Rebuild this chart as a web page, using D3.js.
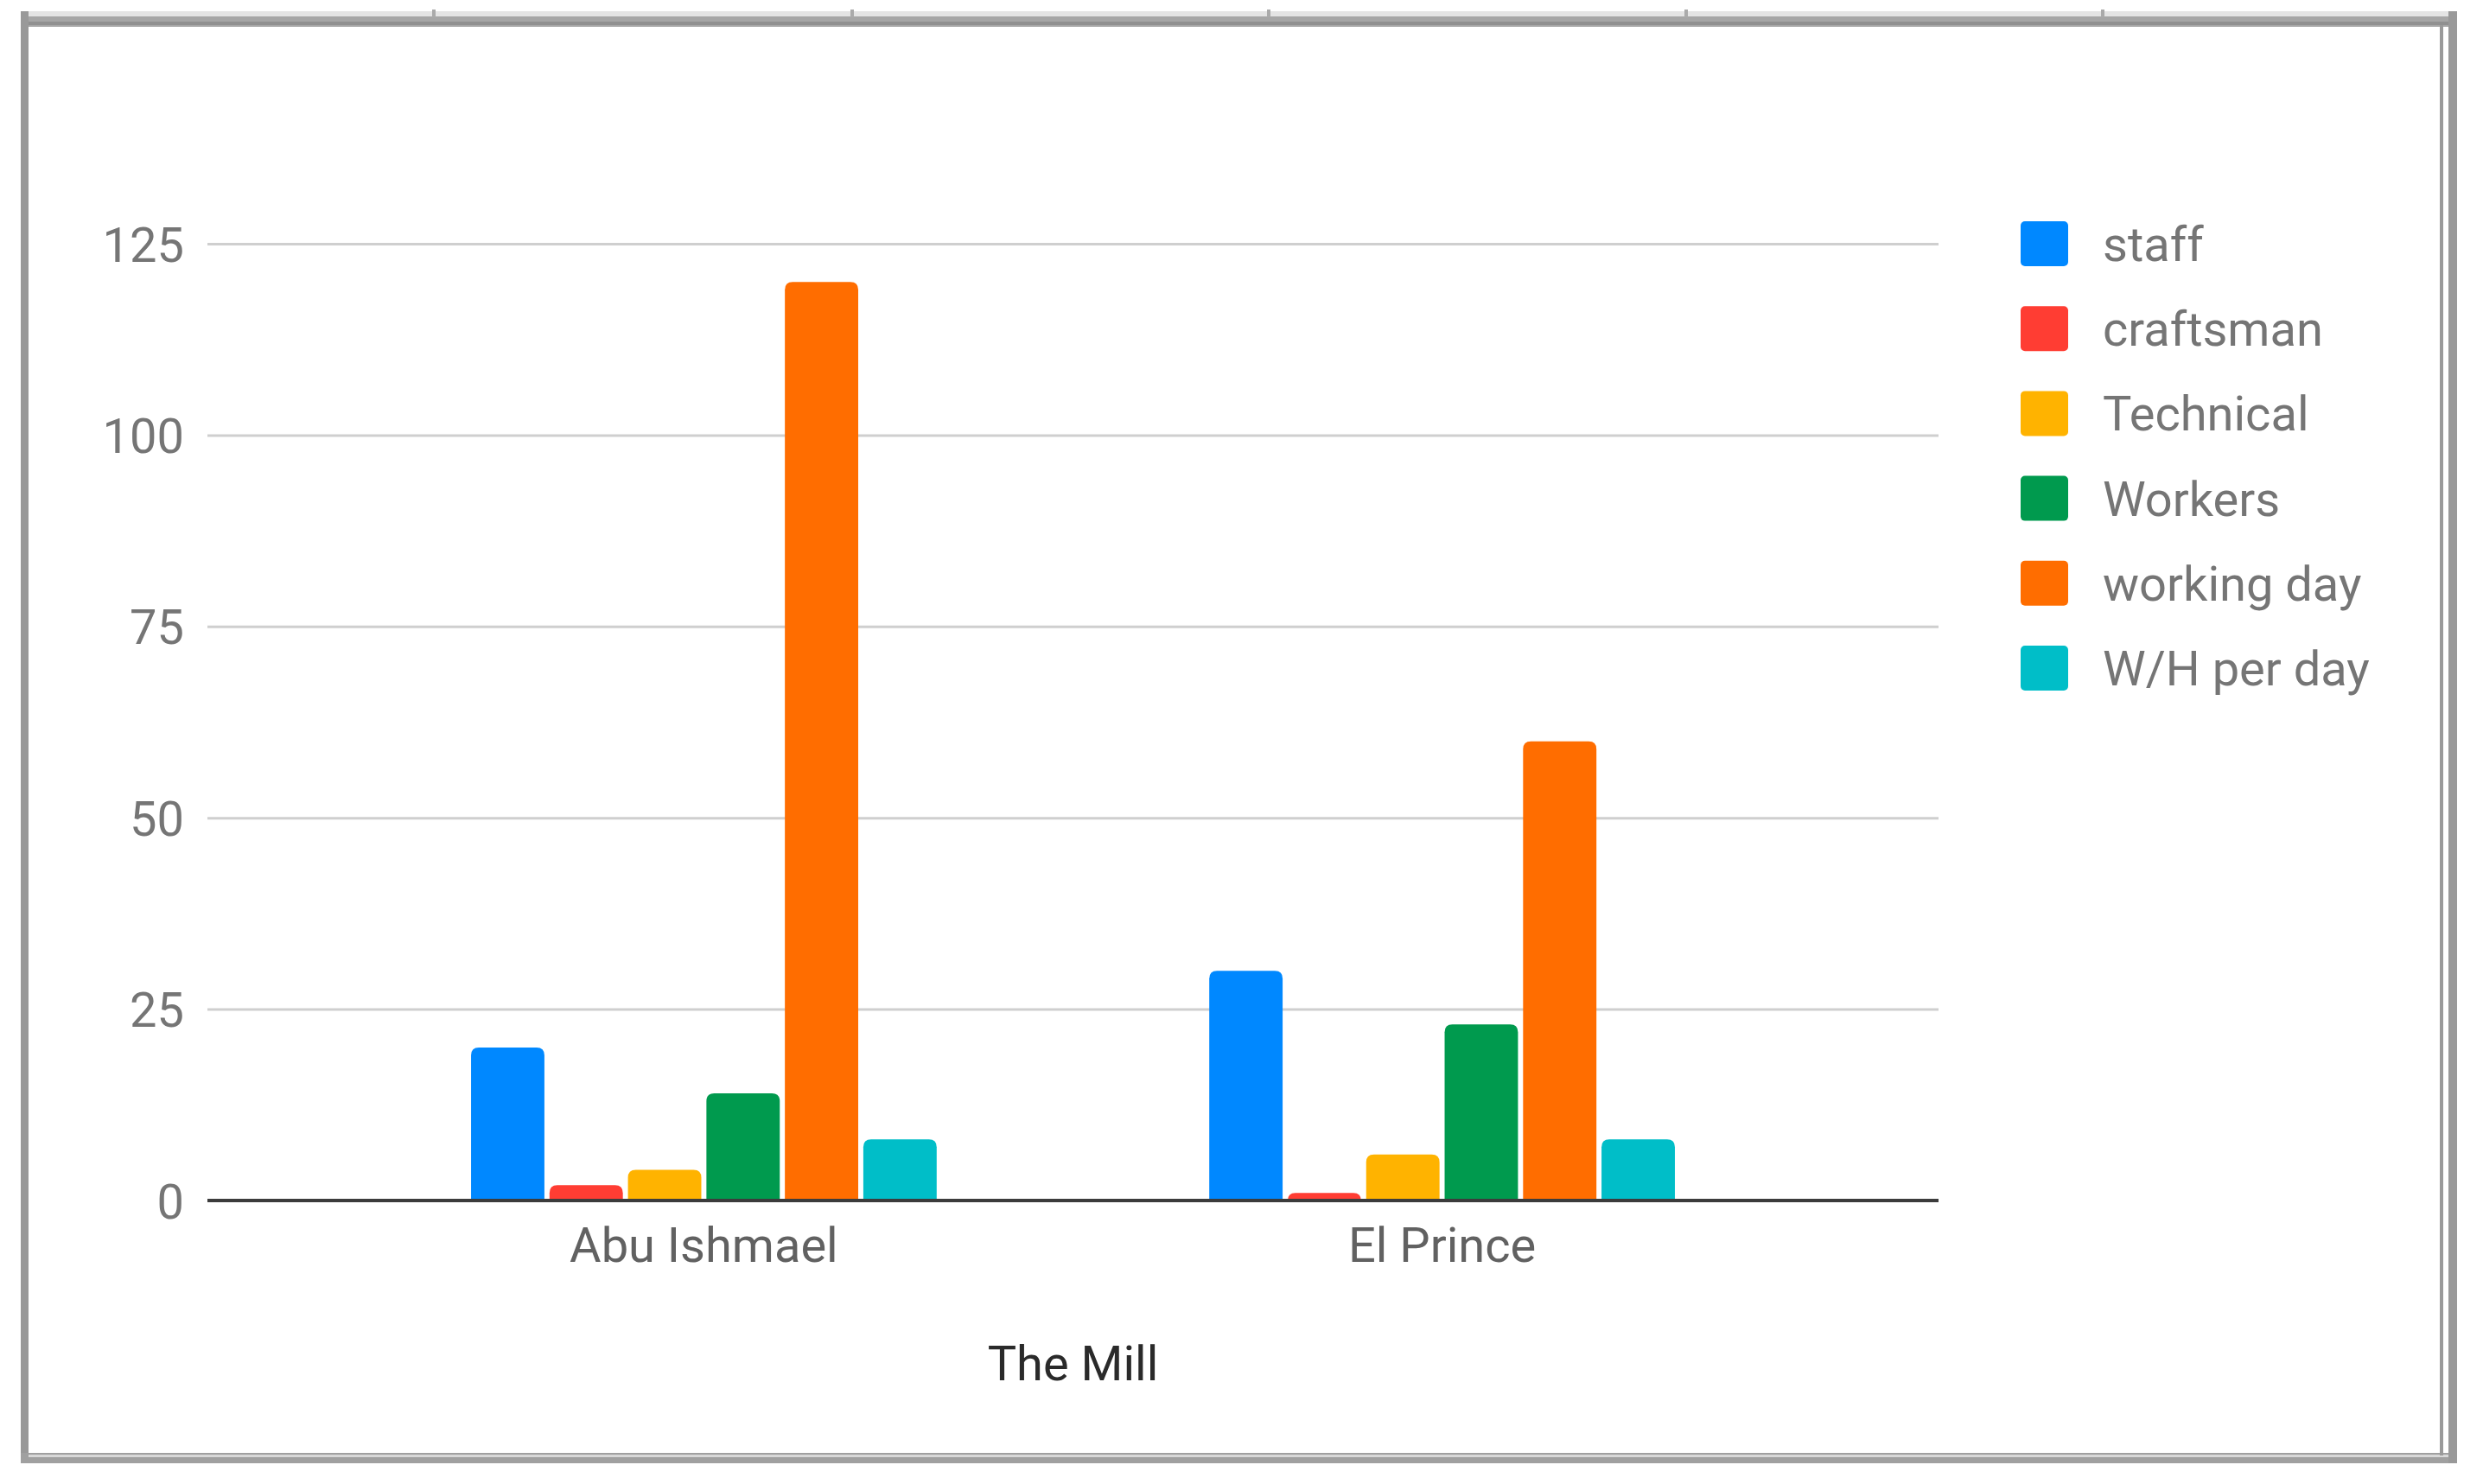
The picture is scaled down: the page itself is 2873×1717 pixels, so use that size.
<!DOCTYPE html>
<html><head><meta charset="utf-8">
<script src="https://cdn.jsdelivr.net/npm/d3@7"></script>
<style>html,body{margin:0;padding:0;background:#fff;}svg{display:block;}</style>
</head><body>
<svg id="c" width="2873" height="1717"></svg>
<script>
const categories = ["Abu Ishmael", "El Prince"];
const seriesNames = ["staff", "craftsman", "Technical", "Workers", "working day", "W/H per day"];
const staff = [20, 30];
const craftsman = [2, 1];
const technical = [4, 6];
const workers = [14, 23];
const workingDay = [120, 60];
const whPerDay = [8, 8];
const yTicks = [0, 25, 50, 75, 100, 125];
const seriesColors = ["#0088ff", "#ff3d33", "#ffb300", "#009a4e", "#ff6d00", "#00bec8"];
const xTitle = "The Mill";

const seriesValues = [staff, craftsman, technical, workers, workingDay, whPerDay];

const svg = d3.select("#c");
const font = "Roboto, 'Noto Sans', Arial, sans-serif";

// frame (document-style border)
const frame = svg.append("g");
frame.append("rect").attr("x", 24).attr("y", 13).attr("width", 2819).attr("height", 6).attr("fill", "#e4e4e4");
frame.append("rect").attr("x", 24).attr("y", 19).attr("width", 2819).attr("height", 12).attr("fill", "#a6a6a6");
frame.append("rect").attr("x", 24).attr("y", 25).attr("width", 2819).attr("height", 4).attr("fill", "#909090");
frame.append("rect").attr("x", 24).attr("y", 13).attr("width", 9).attr("height", 1680).attr("fill", "#999");
frame.append("rect").attr("x", 24).attr("y", 1681).attr("width", 2819).attr("height", 12).attr("fill", "#a0a0a0");
frame.append("rect").attr("x", 33).attr("y", 1683).attr("width", 2800).attr("height", 3).attr("fill", "#d8d8d8");
frame.append("rect").attr("x", 2823).attr("y", 29).attr("width", 4).attr("height", 1655).attr("fill", "#9a9a9a");
frame.append("rect").attr("x", 2833).attr("y", 13).attr("width", 10).attr("height", 1680).attr("fill", "#999");
[502, 986, 1468, 1951, 2433].forEach(x => {
  frame.append("rect").attr("x", x - 2).attr("y", 11).attr("width", 4).attr("height", 9).attr("fill", "#aaa");
});

const plot = {left: 240, right: 2243, top: 282, bottom: 1389};

const y = d3.scaleLinear().domain([0, 125]).range([plot.bottom, plot.top]);
const x0 = d3.scaleBand().domain(categories).range([plot.left, plot.right]).paddingInner(0.365).paddingOuter(0.355);
const x1 = d3.scaleBand().domain(seriesNames).range([0, x0.bandwidth()]).paddingInner(0.065).paddingOuter(0.02);
const color = d3.scaleOrdinal().domain(seriesNames).range(seriesColors);

// gridlines
const yAxis = d3.axisLeft(y).tickValues(yTicks).tickSize(-(plot.right - plot.left)).tickPadding(27);
const gy = svg.append("g").attr("transform", `translate(${plot.left},0)`).call(yAxis);
gy.select(".domain").remove();
gy.selectAll(".tick line").attr("stroke", "#cfcfcf").attr("stroke-width", 3);
gy.selectAll(".tick text").attr("font-family", font).attr("font-size", 56).attr("fill", "#757575").attr("dy", "0.36em");

// bars
function topRounded(xp, yp, w, h, r) {
  r = Math.min(r, h, w / 2);
  return `M${xp},${yp + h}V${yp + r}Q${xp},${yp} ${xp + r},${yp}H${xp + w - r}Q${xp + w},${yp} ${xp + w},${yp + r}V${yp + h}Z`;
}
const groups = svg.append("g").selectAll("g").data(categories).join("g")
  .attr("transform", d => `translate(${x0(d)},0)`);
groups.selectAll("path").data((d, i) => seriesNames.map((s, k) => ({s, v: seriesValues[k][i]})))
  .join("path")
  .attr("fill", d => color(d.s))
  .attr("d", d => topRounded(x1(d.s), y(d.v), x1.bandwidth(), y(0) - y(d.v), 9));

// baseline
svg.append("line").attr("x1", plot.left).attr("x2", plot.right).attr("y1", y(0)).attr("y2", y(0))
  .attr("stroke", "#3c3c3c").attr("stroke-width", 4);

// category labels
const xAxis = d3.axisBottom(x0).tickSize(0).tickPadding(0);
const gx = svg.append("g").attr("transform", `translate(0,${y(0)})`).call(xAxis);
gx.select(".domain").remove();
gx.selectAll(".tick text").attr("font-family", font).attr("font-size", 56).attr("fill", "#616161")
  .attr("y", 71).attr("dy", 0);

// axis title
svg.append("text").attr("x", (plot.left + plot.right) / 2).attr("y", 1597).attr("text-anchor", "middle")
  .attr("font-family", font).attr("font-size", 56).attr("fill", "#2a2a2a").text(xTitle);

// legend
const lg = svg.append("g").selectAll("g").data(seriesNames).join("g")
  .attr("transform", (d, i) => `translate(2338,${282 + i * 98.2})`);
lg.append("rect").attr("x", 0).attr("y", -26).attr("width", 55).attr("height", 52).attr("rx", 5)
  .attr("fill", d => color(d));
lg.append("text").attr("x", 95).attr("y", 20).attr("font-family", font).attr("font-size", 56)
  .attr("fill", "#757575").text(d => d);
</script>
</body></html>
